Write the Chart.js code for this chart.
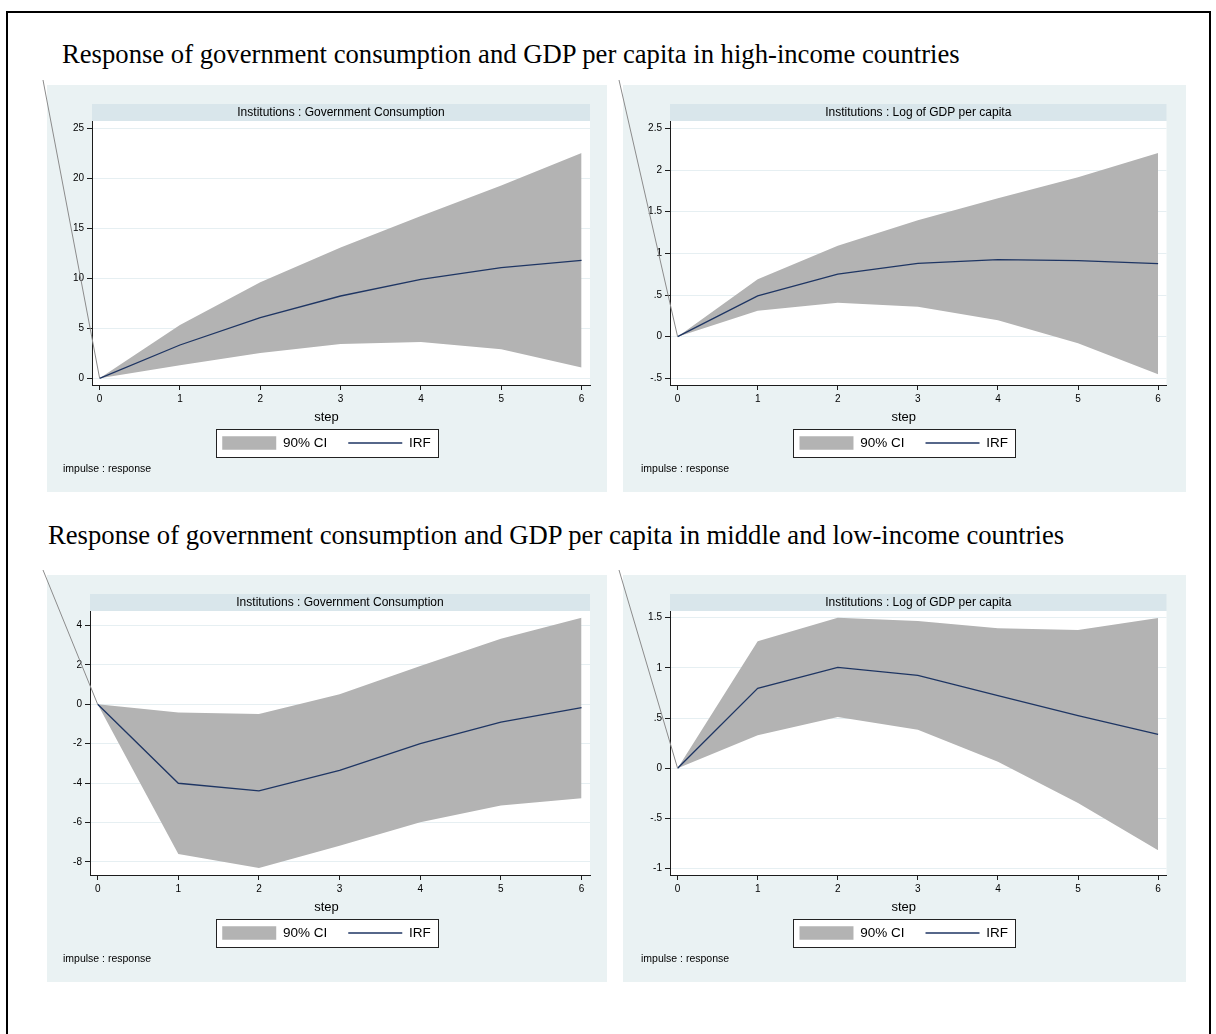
<!DOCTYPE html>
<html>
<head>
<meta charset="utf-8">
<script src="https://cdn.jsdelivr.net/npm/chart.js@4.4.1/dist/chart.umd.min.js"></script>
<style>
html,body{margin:0;padding:0;background:#fff;width:1216px;height:1034px;overflow:hidden;}
#frame{position:absolute;left:6px;top:11px;width:1205px;height:1100px;border:2px solid #000;border-bottom:none;box-sizing:border-box;}
.sect{position:absolute;font-family:"Liberation Serif","Times New Roman",serif;color:#000;white-space:nowrap;line-height:1;}
canvas{position:absolute;}
</style>
</head>
<body>
<div id="frame"></div>
<div class="sect" id="t1">Response of government consumption and GDP per capita in high-income countries</div>
<div class="sect" id="t2">Response of government consumption and GDP per capita in middle and low-income countries</div>
<canvas id="c1"></canvas>
<canvas id="c2"></canvas>
<canvas id="c3"></canvas>
<canvas id="c4"></canvas>
<script>
// ---------------- DATA ----------------
const steps = [0, 1, 2, 3, 4, 5, 6];
const xTickValues = [0, 1, 2, 3, 4, 5, 6];

// High-income countries: Institutions -> Government Consumption
const hiGovIRF   = [0, 3.33, 6.07, 8.23, 9.90, 11.07, 11.80];
const hiGovLower = [0, 1.30, 2.53, 3.43, 3.63, 2.90, 1.07];
const hiGovUpper = [0, 5.33, 9.60, 13.07, 16.23, 19.27, 22.53];
const hiGovTickValues = [0, 5, 10, 15, 20, 25];
const hiGovTickLabels = ['0', '5', '10', '15', '20', '25'];

// High-income countries: Institutions -> Log of GDP per capita
const hiGdpIRF   = [0, 0.49, 0.75, 0.88, 0.924, 0.912, 0.876];
const hiGdpLower = [0, 0.312, 0.408, 0.36, 0.196, -0.08, -0.452];
const hiGdpUpper = [0, 0.688, 1.092, 1.396, 1.66, 1.912, 2.204];
const hiGdpTickValues = [-0.5, 0, 0.5, 1, 1.5, 2, 2.5];
const hiGdpTickLabels = ['-.5', '0', '.5', '1', '1.5', '2', '2.5'];

// Middle and low-income countries: Institutions -> Government Consumption
const loGovIRF   = [0, -4.01, -4.40, -3.35, -2.00, -0.91, -0.17];
const loGovLower = [0, -7.60, -8.32, -7.19, -5.99, -5.14, -4.77];
const loGovUpper = [0, -0.42, -0.49, 0.51, 1.95, 3.33, 4.40];
const loGovTickValues = [-8, -6, -4, -2, 0, 2, 4];
const loGovTickLabels = ['-8', '-6', '-4', '-2', '0', '2', '4'];

// Middle and low-income countries: Institutions -> Log of GDP per capita
const loGdpIRF   = [0, 0.797, 1.006, 0.926, 0.724, 0.525, 0.339];
const loGdpLower = [0, 0.329, 0.511, 0.385, 0.066, -0.345, -0.817];
const loGdpUpper = [0, 1.265, 1.50, 1.467, 1.394, 1.378, 1.497];
const loGdpTickValues = [-1, -0.5, 0, 0.5, 1, 1.5];
const loGdpTickLabels = ['-1', '-.5', '0', '.5', '1', '1.5'];

const subtitleGov = 'Institutions : Government Consumption';
const subtitleGdp = 'Institutions : Log of GDP per capita';
const ciLabel = '90% CI';
const irfLabel = 'IRF';
const xTitle = 'step';
const noteText = 'impulse : response';

// ---------------- STYLE ----------------
const FONT = '"Liberation Sans", Arial, Helvetica, sans-serif';
const PANEL_BG = '#EAF2F3';
const STRIP_BG = '#D9E6EB';
const GRID = '#E6EFF2';
const AXIS = '#1c1c1c';
const CI_FILL = '#B3B3B3';
const IRF_COLOR = '#1E3563';
const M = 10; // canvas margin around panel

Chart.defaults.font.family = FONT;
Chart.defaults.color = '#000';

function placeTitles() {
  const t1 = document.getElementById('t1');
  const t2 = document.getElementById('t2');
  t1.style.fontSize = '24px';
  const w = t1.getBoundingClientRect().width;
  const fs = 24 * 898 / w;
  [[t1, 62, 63], [t2, 48, 544]].forEach(([el, left, base]) => {
    el.style.fontSize = fs + 'px';
    el.style.left = left + 'px';
    el.style.top = (base - 0.8375 * fs) + 'px';
  });
}
placeTitles();

const panelPlugin = {
  id: 'panelDecor',
  beforeDraw(chart, args, opts) {
    const ctx = chart.ctx;
    const ca = chart.chartArea;
    ctx.save();
    // graph region
    ctx.fillStyle = PANEL_BG;
    ctx.fillRect(M, M, opts.w, opts.h);
    // subtitle strip
    ctx.fillStyle = STRIP_BG;
    ctx.fillRect(ca.left, ca.top - 17, ca.right - ca.left, 17);
    ctx.fillStyle = '#000';
    ctx.font = '12px ' + FONT;
    ctx.textAlign = 'center';
    ctx.textBaseline = 'middle';
    ctx.fillText(opts.strip, (ca.left + ca.right) / 2, ca.top - 8);
    // plot region
    ctx.fillStyle = '#fff';
    ctx.fillRect(ca.left, ca.top, ca.right - ca.left, ca.bottom - ca.top);
    // legend box
    const hb = chart.legend && chart.legend.legendHitBoxes;
    if (hb && hb.length) {
      const l = Math.round(hb[0].left - 6) + 0.5;
      const r = Math.round(hb[hb.length - 1].left + hb[hb.length - 1].width + 7) + 0.5;
      const t = Math.round(hb[0].top - 7) + 0.5;
      const b = Math.round(hb[0].top + hb[0].height + 7) + 0.5;
      ctx.fillStyle = '#fff';
      ctx.fillRect(l, t, r - l, b - t);
      ctx.strokeStyle = '#222';
      ctx.lineWidth = 1;
      ctx.strokeRect(l, t, r - l, b - t);
    }
    ctx.restore();
  },
  afterDraw(chart, args, opts) {
    const ctx = chart.ctx;
    const x0 = chart.scales.x.getPixelForValue(0);
    const y0 = chart.scales.y.getPixelForValue(0);
    ctx.save();
    ctx.strokeStyle = '#8c8c8c';
    ctx.lineWidth = 1;
    ctx.beginPath();
    ctx.moveTo(M - 4, M - 5);
    ctx.lineTo(x0, y0);
    ctx.stroke();
    ctx.restore();
  }
};

function makePanel(cfg) {
  const canvas = document.getElementById(cfg.id);
  const cw = cfg.w + M, ch = cfg.h + M;
  canvas.width = cw; canvas.height = ch;
  canvas.style.width = cw + 'px'; canvas.style.height = ch + 'px';
  canvas.style.left = (cfg.left - M) + 'px';
  canvas.style.top = (cfg.top - M) + 'px';
  const pts = arr => steps.map((s, i) => ({x: s, y: arr[i]}));
  return new Chart(canvas, {
    type: 'line',
    data: {
      datasets: [
        {label: ciLabel, data: pts(cfg.upper), fill: '+1', backgroundColor: CI_FILL, borderColor: CI_FILL,
         borderWidth: 0, pointRadius: 0, pointStyle: 'rect', tension: 0, order: 2},
        {label: '_lower', data: pts(cfg.lower), fill: false, backgroundColor: CI_FILL, borderColor: CI_FILL,
         borderWidth: 0, pointRadius: 0, tension: 0, order: 2},
        {label: irfLabel, data: pts(cfg.irf), fill: false, borderColor: IRF_COLOR, backgroundColor: IRF_COLOR,
         borderWidth: 1.3, pointRadius: 0, pointStyle: 'line', tension: 0, order: 1}
      ]
    },
    options: {
      responsive: false,
      animation: false,
      devicePixelRatio: 1,
      events: [],
      layout: {padding: {left: M + cfg.padL, right: cfg.padR, top: M + 36, bottom: 16.2}},
      scales: {
        x: {
          type: 'linear', min: -0.095, max: 6.105,
          afterBuildTicks: s => { s.ticks = xTickValues.map(v => ({value: v})); },
          afterFit: s => { s.height = 24; },
          grid: {drawOnChartArea: false, drawTicks: true, tickLength: 5, tickColor: AXIS, tickWidth: 1},
          border: {display: true, color: AXIS, width: 1},
          ticks: {font: {size: 10}, color: '#000', padding: 3, maxRotation: 0, autoSkip: false,
                  callback: v => String(v)}
        },
        y: {
          type: 'linear', min: cfg.yMin, max: cfg.yMax,
          afterBuildTicks: s => { s.ticks = cfg.tickValues.map(v => ({value: v})); },
          afterFit: s => { s.width = cfg.yW; },
          grid: {color: GRID, lineWidth: 1, drawTicks: true, tickLength: 5, tickColor: AXIS, tickWidth: 1},
          border: {display: true, color: AXIS, width: 1},
          ticks: {font: {size: 10}, color: '#000', padding: 3, autoSkip: false,
                  callback: v => cfg.tickLabels[cfg.tickValues.indexOf(v)]}
        }
      },
      plugins: {
        panelDecor: {w: cfg.w, h: cfg.h, strip: cfg.strip},
        title: {display: true, text: xTitle, position: 'bottom', weight: 500, fullSize: true,
                font: {size: 13, weight: 'normal'}, color: '#000', padding: {top: 1, bottom: -10.35}},
        legend: {
          display: true, position: 'bottom', weight: 1000, align: 'center',
          labels: {usePointStyle: true, pointStyleWidth: 54, boxWidth: 54, boxHeight: 14,
                   padding: 21, color: '#000', font: {size: 13.5},
                   filter: item => item.text !== '_lower',
                   sort: (a, b) => a.datasetIndex - b.datasetIndex}
        },
        subtitle: {display: true, text: noteText, position: 'bottom', align: 'start', weight: 1500,
                   fullSize: true, font: {size: 10.5, weight: 'normal'}, color: '#000',
                   padding: {top: 3.45, bottom: 0}},
        tooltip: {enabled: false}
      }
    },
    plugins: [panelPlugin]
  });
}

makePanel({id: 'c1', left: 47, top: 85, w: 560, h: 407, padL: 16, yW: 29, padR: 17,
  yMin: -0.67, yMax: 25.73, irf: hiGovIRF, lower: hiGovLower, upper: hiGovUpper,
  tickValues: hiGovTickValues, tickLabels: hiGovTickLabels, strip: subtitleGov});
makePanel({id: 'c2', left: 623, top: 85, w: 563, h: 407, padL: 18, yW: 29, padR: 19.5,
  yMin: -0.58, yMax: 2.588, irf: hiGdpIRF, lower: hiGdpLower, upper: hiGdpUpper,
  tickValues: hiGdpTickValues, tickLabels: hiGdpTickLabels, strip: subtitleGdp});
makePanel({id: 'c3', left: 47, top: 575, w: 560, h: 407, padL: 16, yW: 27, padR: 17,
  yMin: -8.67, yMax: 4.74, irf: loGovIRF, lower: loGovLower, upper: loGovUpper,
  tickValues: loGovTickValues, tickLabels: loGovTickLabels, strip: subtitleGov});
makePanel({id: 'c4', left: 623, top: 575, w: 563, h: 407, padL: 18, yW: 29, padR: 19.5,
  yMin: -1.063, yMax: 1.567, irf: loGdpIRF, lower: loGdpLower, upper: loGdpUpper,
  tickValues: loGdpTickValues, tickLabels: loGdpTickLabels, strip: subtitleGdp});
</script>
</body>
</html>
